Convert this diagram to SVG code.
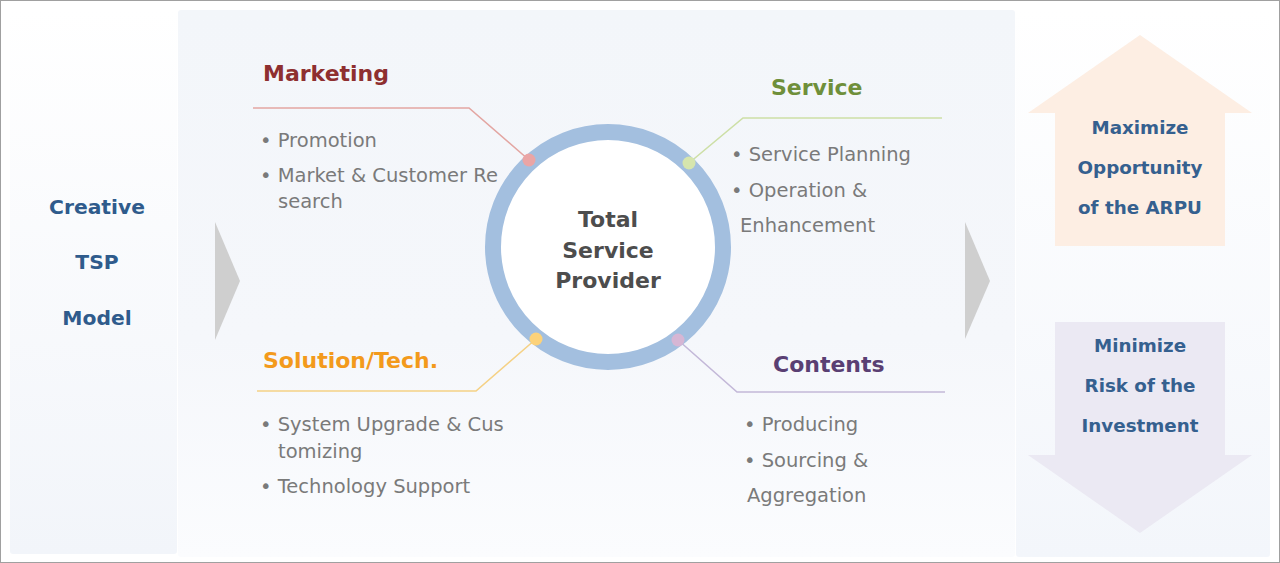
<svg xmlns="http://www.w3.org/2000/svg" width="1280" height="563" viewBox="0 0 1280 563">
<defs>
<linearGradient id="gLeft" x1="0" y1="0" x2="0" y2="1"><stop offset="0" stop-color="#ffffff"/><stop offset="1" stop-color="#f2f5fa"/></linearGradient>
<linearGradient id="gMid" x1="0" y1="0" x2="0" y2="1"><stop offset="0" stop-color="#f3f6fa"/><stop offset="0.6" stop-color="#f5f7fb"/><stop offset="1" stop-color="#fbfcfe"/></linearGradient>
<linearGradient id="gRight" x1="0" y1="0" x2="0" y2="1"><stop offset="0" stop-color="#ffffff"/><stop offset="1" stop-color="#f3f6fb"/></linearGradient>
</defs>
<style>
text{font-family:"DejaVu Sans","Liberation Sans",sans-serif}
.t{font-weight:bold;font-size:22px}
.b{font-size:19.5px;fill:#7a7a7a}
.side{font-weight:bold;font-size:20.3px;fill:#2f5b8c;text-anchor:middle}
.rt{font-weight:bold;font-size:18.3px;fill:#35608f;text-anchor:middle}
.ctr{font-weight:bold;font-size:22px;fill:#4d4d4d;text-anchor:middle}
.ln{fill:none;stroke-width:1.6}
</style>
<rect x="0.5" y="0.5" width="1279" height="562" fill="#ffffff" stroke="#a0a0a0"/>
<rect x="10" y="10" width="167" height="544" rx="3" fill="url(#gLeft)"/>
<rect x="178" y="10" width="837" height="547" rx="3" fill="url(#gMid)"/>
<rect x="1016" y="10" width="254" height="547" rx="3" fill="url(#gRight)"/>

<g id="flow-arrows">
<polygon points="215,222 240,281 215,340" fill="#cfcfcf"/>
<polygon points="965,222 990,281 965,339" fill="#cfcfcf"/>
</g>

<g id="left-label">
<text class="side" x="97" y="214">Creative</text>
<text class="side" x="97" y="269">TSP</text>
<text class="side" x="97" y="325">Model</text>
</g>

<g id="connectors">
<polyline class="ln" stroke="#e3a6a2" points="253,108 469,108 529,160"/>
<polyline class="ln" stroke="#cddfa6" points="689,163 743,118 942,118"/>
<polyline class="ln" stroke="#f5d185" points="536,339 476,391 257,391"/>
<polyline class="ln" stroke="#c3b8d8" points="678,340 737,392 945,392"/>
</g>

<g id="center">
<circle cx="608" cy="247" r="115" fill="#ffffff" stroke="#a3bfdf" stroke-width="16"/>
<text class="ctr" x="608" y="227">Total</text>
<text class="ctr" x="608" y="258">Service</text>
<text class="ctr" x="608" y="288">Provider</text>
<circle cx="529" cy="160" r="6.5" fill="#eaa5a5"/>
<circle cx="689" cy="163" r="6.5" fill="#d6e5ad"/>
<circle cx="536" cy="339" r="6.5" fill="#fcd27a"/>
<circle cx="678" cy="340" r="6.5" fill="#d6b6d4"/>
</g>

<g id="marketing">
<text class="t" x="263" y="81" fill="#8e2f30">Marketing</text>
<text class="b" x="260" y="147">• Promotion</text>
<text class="b" x="260" y="182">• Market &amp; Customer Re</text>
<text class="b" x="278" y="208">search</text>
</g>

<g id="service">
<text class="t" x="771" y="95" fill="#6f8f3a">Service</text>
<text class="b" x="731" y="161">• Service Planning</text>
<text class="b" x="731" y="197">• Operation &amp;</text>
<text class="b" x="740" y="232">Enhancement</text>
</g>

<g id="solution">
<text class="t" x="263" y="368" fill="#f39a1c">Solution/Tech.</text>
<text class="b" x="260" y="431">• System Upgrade &amp; Cus</text>
<text class="b" x="278" y="458">tomizing</text>
<text class="b" x="260" y="493">• Technology Support</text>
</g>

<g id="contents">
<text class="t" x="773" y="372" fill="#5a3f73">Contents</text>
<text class="b" x="744" y="431">• Producing</text>
<text class="b" x="744" y="467">• Sourcing &amp;</text>
<text class="b" x="747" y="502">Aggregation</text>
</g>

<g id="maximize">
<polygon points="1140,35 1252,113 1225,113 1225,246 1055,246 1055,113 1028,113" fill="#fdeee3"/>
<text class="rt" x="1140" y="134">Maximize</text>
<text class="rt" x="1140" y="174">Opportunity</text>
<text class="rt" x="1140" y="214">of the ARPU</text>
</g>

<g id="minimize">
<polygon points="1055,322 1225,322 1225,455 1252,455 1140,533 1028,455 1055,455" fill="#ebe9f3"/>
<text class="rt" x="1140" y="352">Minimize</text>
<text class="rt" x="1140" y="392">Risk of the</text>
<text class="rt" x="1140" y="432">Investment</text>
</g>
</svg>
